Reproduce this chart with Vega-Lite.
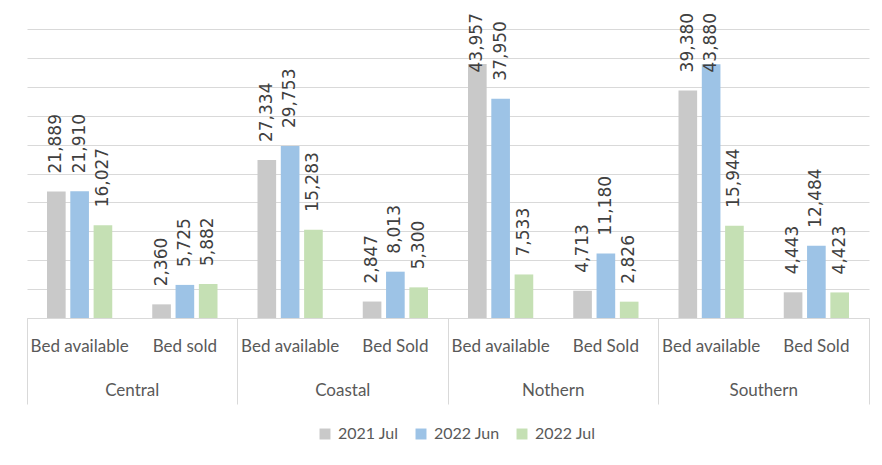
{
  "$schema": "https://vega.github.io/schema/vega-lite/v6.json",
  "width": 842,
  "height": 289,
  "autosize": "none",
  "padding": {"left": 27, "top": 29, "right": 13, "bottom": 147},
  "background": "white",
  "config": {"view": {"stroke": null}},
  "data": {
    "values": [
      {"region": "Central", "cat": "Central|Bed available", "period": "2021 Jul", "value": 21889},
      {"region": "Central", "cat": "Central|Bed available", "period": "2022 Jun", "value": 21910},
      {"region": "Central", "cat": "Central|Bed available", "period": "2022 Jul", "value": 16027},
      {"region": "Central", "cat": "Central|Bed sold", "period": "2021 Jul", "value": 2360},
      {"region": "Central", "cat": "Central|Bed sold", "period": "2022 Jun", "value": 5725},
      {"region": "Central", "cat": "Central|Bed sold", "period": "2022 Jul", "value": 5882},
      {"region": "Coastal", "cat": "Coastal|Bed available", "period": "2021 Jul", "value": 27334},
      {"region": "Coastal", "cat": "Coastal|Bed available", "period": "2022 Jun", "value": 29753},
      {"region": "Coastal", "cat": "Coastal|Bed available", "period": "2022 Jul", "value": 15283},
      {"region": "Coastal", "cat": "Coastal|Bed Sold", "period": "2021 Jul", "value": 2847},
      {"region": "Coastal", "cat": "Coastal|Bed Sold", "period": "2022 Jun", "value": 8013},
      {"region": "Coastal", "cat": "Coastal|Bed Sold", "period": "2022 Jul", "value": 5300},
      {"region": "Nothern", "cat": "Nothern|Bed available", "period": "2021 Jul", "value": 43957},
      {"region": "Nothern", "cat": "Nothern|Bed available", "period": "2022 Jun", "value": 37950},
      {"region": "Nothern", "cat": "Nothern|Bed available", "period": "2022 Jul", "value": 7533},
      {"region": "Nothern", "cat": "Nothern|Bed Sold", "period": "2021 Jul", "value": 4713},
      {"region": "Nothern", "cat": "Nothern|Bed Sold", "period": "2022 Jun", "value": 11180},
      {"region": "Nothern", "cat": "Nothern|Bed Sold", "period": "2022 Jul", "value": 2826},
      {"region": "Southern", "cat": "Southern|Bed available", "period": "2021 Jul", "value": 39380},
      {"region": "Southern", "cat": "Southern|Bed available", "period": "2022 Jun", "value": 43880},
      {"region": "Southern", "cat": "Southern|Bed available", "period": "2022 Jul", "value": 15944},
      {"region": "Southern", "cat": "Southern|Bed Sold", "period": "2021 Jul", "value": 4443},
      {"region": "Southern", "cat": "Southern|Bed Sold", "period": "2022 Jun", "value": 12484},
      {"region": "Southern", "cat": "Southern|Bed Sold", "period": "2022 Jul", "value": 4423}
    ]
  },
  "layer": [
    {
      "layer": [
        {
          "mark": {"type": "bar"},
          "encoding": {
            "x": {
              "field": "cat", "type": "nominal", "sort": null,
              "scale": {"paddingInner": 0.38, "paddingOuter": 0.19},
              "axis": {
                "title": null, "ticks": false, "labelAngle": 0,
                "labelExpr": "split(datum.label, '|')[1]",
                "domainColor": "#d9d9d9", "labelFont": "Lato", "labelFontSize": 17,
                "labelColor": "#595959", "labelPadding": 20
              }
            },
            "xOffset": {
              "field": "period", "type": "nominal", "sort": ["2021 Jul", "2022 Jun", "2022 Jul"],
              "scale": {"paddingInner": 0.2, "paddingOuter": 0}
            },
            "y": {
              "field": "value", "type": "quantitative",
              "scale": {"domain": [0, 50000], "nice": false},
              "axis": {
                "title": null, "labels": false, "ticks": false, "domain": false,
                "grid": true, "gridColor": "#d9d9d9",
                "values": [0, 5000, 10000, 15000, 20000, 25000, 30000, 35000, 40000, 45000, 50000]
              }
            },
            "color": {
              "field": "period", "type": "nominal",
              "sort": ["2021 Jul", "2022 Jun", "2022 Jul"],
              "scale": {"domain": ["2021 Jul", "2022 Jun", "2022 Jul"], "range": ["#C9C9C9", "#9DC3E6", "#C5E0B4"]},
              "legend": {
                "title": null, "orient": "none", "direction": "horizontal",
                "legendX": 290, "legendY": 397,
                "symbolType": "square", "symbolSize": 120, "symbolStrokeWidth": 0,
                "labelFont": "Lato", "labelFontSize": 16, "labelColor": "#595959",
                "labelOffset": 5, "columnPadding": 14
              }
            }
          }
        },
        {
          "transform": [{"filter": "datum.value < 40000"}],
          "mark": {"type": "text", "angle": 270, "align": "left", "baseline": "middle", "dx": 18, "font": "DejaVu Sans", "fontSize": 17, "color": "#404040"},
          "encoding": {
            "x": {"field": "cat", "type": "nominal", "sort": null},
            "xOffset": {"field": "period", "type": "nominal", "sort": ["2021 Jul", "2022 Jun", "2022 Jul"]},
            "y": {
              "field": "value", "type": "quantitative",
              "axis": {
                "title": null, "labels": false, "ticks": false, "domain": false,
                "grid": true, "gridColor": "#d9d9d9",
                "values": [0, 5000, 10000, 15000, 20000, 25000, 30000, 35000, 40000, 45000, 50000]
              }
            },
            "text": {"field": "value", "type": "quantitative", "format": ","}
          }
        },
        {
          "transform": [{"filter": "datum.value >= 40000"}],
          "mark": {"type": "text", "angle": 270, "align": "right", "baseline": "middle", "dx": 16, "font": "DejaVu Sans", "fontSize": 17, "color": "#404040"},
          "encoding": {
            "x": {"field": "cat", "type": "nominal", "sort": null},
            "xOffset": {"field": "period", "type": "nominal", "sort": ["2021 Jul", "2022 Jun", "2022 Jul"]},
            "y": {
              "datum": 50000, "type": "quantitative",
              "axis": {
                "title": null, "labels": false, "ticks": false, "domain": false,
                "grid": true, "gridColor": "#d9d9d9",
                "values": [0, 5000, 10000, 15000, 20000, 25000, 30000, 35000, 40000, 45000, 50000]
              }
            },
            "text": {"field": "value", "type": "quantitative", "format": ","}
          }
        }
      ]
    },
    {
      "mark": {"type": "rule", "opacity": 0},
      "encoding": {
        "x": {
          "field": "region", "type": "nominal", "sort": null,
          "scale": {"paddingInner": 0, "paddingOuter": 0},
          "axis": {
            "title": null, "orient": "bottom", "offset": 0, "labelAngle": 0,
            "bandPosition": 1, "tickExtra": true, "tickSize": 86, "tickColor": "#d9d9d9",
            "domain": false, "labelFont": "Lato", "labelFontSize": 17, "labelColor": "#595959",
            "labelBaseline": "middle", "labelPadding": -14
          }
        }
      }
    }
  ],
  "resolve": {"scale": {"x": "independent"}, "axis": {"x": "independent"}}
}
